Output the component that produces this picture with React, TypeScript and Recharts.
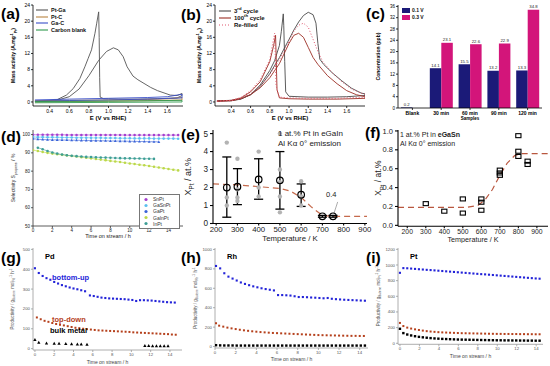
import React from 'react';
import { ComposedChart, Line, Bar, Scatter, XAxis, YAxis, Legend, ErrorBar, ReferenceLine, LabelList } from 'recharts';

const FONT = '"Liberation Sans", Arial, Helvetica, sans-serif';

type Pt = [number, number];
const pts = (a: Pt[]) => a.map(([x, y]) => ({ x, y }));
const zip = (xs: number[], ys: number[]) => xs.map((x, i) => ({ x, y: ys[i] }));

// ---------------- (a) ----------------
const aTicksX = [0.4, 0.6, 0.8, 1.0, 1.2, 1.4, 1.6];
const aTicksY = [0, 4, 8, 12, 16, 20, 24];
const aPtGaE = [0.25, 0.4, 0.5, 0.6, 0.7, 0.8, 0.9, 0.98, 1.05, 1.1, 1.15, 1.19, 1.25, 1.3, 1.43, 1.5, 1.63, 1.7, 1.75,
  1.75, 1.7, 1.5, 1.3, 1.1, 0.95, 0.915, 0.91, 0.905, 0.9, 0.88, 0.862, 0.827, 0.793, 0.759, 0.708, 0.64, 0.571, 0.47, 0.25];
const aPtGaJ = [0.2, 0.3, 0.6, 1.3, 3.2, 6.5, 10.3, 12.5, 13.4, 12.9, 11.2, 8.7, 6.4, 5.5, 3.6, 2.8, 1.7, 1.6, 2.1,
  1.6, 1.0, 0.8, 0.7, 0.7, 0.8, 1.2, 6, 16, 22.3, 19.5, 17, 12.9, 10.8, 8.7, 5.8, 3.3, 1.7, 0.5, 0.1];
const aPtCE = [0.25, 0.6, 1.0, 1.4, 1.6, 1.75, 1.75, 1.4, 1.0, 0.6, 0.25];
const aPtCJ = [0.3, 0.4, 0.5, 0.6, 0.8, 1.1, 0.5, 0.3, 0.2, 0.1, 0.0];
const aGaCE = [0.25, 0.6, 1.0, 1.4, 1.6, 1.75, 1.75, 1.4, 1.0, 0.6, 0.25];
const aGaCJ = [0.5, 0.7, 0.9, 1.1, 1.3, 1.9, 1.0, 0.7, 0.5, 0.35, 0.2];
const aBlankE = [0.25, 1.0, 1.75, 1.75, 1.0, 0.25];
const aBlankJ = [0.1, 0.2, 0.4, 0.0, -0.1, -0.2];
const aNames = ['Pt-Ga', 'Pt-C', 'Ga-C', 'Carbon blank'];

// ---------------- (b) ----------------
const bTicksX = [0.4, 0.6, 0.8, 1.0, 1.2, 1.4, 1.6];
const bTicksY = [0, 4, 8, 12, 16, 20, 24];
const b3E = [0.25, 0.4, 0.5, 0.6, 0.7, 0.8, 0.9, 1.0, 1.05, 1.1, 1.15, 1.2, 1.25, 1.28, 1.3, 1.32, 1.36, 1.45, 1.55, 1.65, 1.75, 1.79,
  1.79, 1.6, 1.4, 1.2, 1.0, 0.965, 0.955, 0.945, 0.94, 0.92, 0.9, 0.85, 0.8, 0.7, 0.6, 0.5, 0.4, 0.25];
const b3J = [0.3, 0.4, 0.8, 1.8, 3.8, 7.0, 11.0, 15.5, 17.8, 19.8, 21.4, 22.2, 21.6, 19.5, 14.5, 10.6, 9.3, 7.2, 5.2, 3.4, 2.2, 2.0,
  1.6, 1.3, 1.2, 1.2, 1.4, 2.5, 10, 19, 21.8, 17.5, 14, 10.2, 7.8, 4.2, 1.8, 0.7, 0.3, 0.2];
const b100E = [0.25, 0.4, 0.5, 0.6, 0.7, 0.8, 0.9, 0.95, 1.0, 1.05, 1.1, 1.15, 1.2, 1.25, 1.3, 1.4, 1.5, 1.6, 1.7, 1.79,
  1.79, 1.5, 1.2, 1.0, 0.9, 0.875, 0.865, 0.86, 0.84, 0.8, 0.75, 0.7, 0.6, 0.5, 0.4, 0.25];
const b100J = [0.2, 0.3, 0.8, 1.8, 3.5, 6.0, 9.5, 12.0, 14.5, 16.5, 17.0, 16.0, 13.5, 11.0, 9.3, 6.5, 4.5, 2.8, 1.8, 1.3,
  0.9, 0.7, 0.7, 0.8, 1.0, 3, 12, 16.5, 14, 10, 7.5, 5, 2.5, 1.0, 0.4, 0.2];
const bReE = [0.25, 0.4, 0.5, 0.6, 0.7, 0.8, 0.9, 1.0, 1.05, 1.1, 1.15, 1.2, 1.25, 1.3, 1.35, 1.45, 1.55, 1.65, 1.75, 1.79,
  1.79, 1.5, 1.2, 1.0, 0.9, 0.865, 0.855, 0.85, 0.83, 0.8, 0.75, 0.7, 0.6, 0.5, 0.4, 0.25];
const bReJ = [0.2, 0.3, 0.9, 2.0, 4.0, 6.8, 10.5, 15.0, 17.5, 19.0, 19.5, 18.5, 15.5, 12.5, 10.0, 7.2, 5.0, 3.2, 2.2, 1.9,
  1.2, 0.9, 0.9, 1.0, 1.2, 4, 13, 17, 14.5, 10.5, 8, 5.5, 2.8, 1.1, 0.4, 0.2];
const bNames = ['3rd cycle', '100th cycle', 'Re-filled'];

// ---------------- (c) ----------------
const cSamples = ['Blank', '30 min', '60 min', '90 min', '120 min'];
const c01V = [0.2, 14.1, 15.5, 13.2, 13.3];
const c03V = [0, 23.1, 22.6, 22.9, 34.8];
const cTicksY = [0, 4, 8, 12, 16, 20, 24, 28, 32, 36];
const cNames = ['0.1 V', '0.3 V'];

// ---------------- (d) ----------------
const dTicksX = [0, 2, 4, 6, 8, 10, 12, 14];
const dTicksY = [50, 60, 70, 80, 90, 100];
const dSnPt: Pt[] = [[0, 99.9], [0.5, 99.9], [1, 99.9], [1.5, 99.9], [2, 99.9], [2.5, 99.9], [3, 99.9], [3.5, 99.8], [4, 99.8], [4.5, 99.8], [5, 99.8], [5.5, 99.8], [6, 99.8], [6.5, 99.8], [7, 99.8], [7.5, 99.8], [8, 99.8], [8.5, 99.8], [9, 99.8], [9.5, 99.7], [10, 99.7], [10.5, 99.7], [11, 99.7], [11.5, 99.7], [12, 99.7], [12.5, 99.7], [13, 99.7], [13.5, 99.7], [14, 99.7], [14.5, 99.7], [15, 99.7]];
const dGaSnPt: Pt[] = [[0, 98.7], [0.5, 98.6], [1, 98.6], [1.5, 98.5], [2, 98.5], [2.5, 98.5], [3, 98.4], [3.5, 98.4], [4, 98.4], [4.5, 98.3], [5, 98.3], [5.5, 98.3], [6, 98.2], [6.5, 98.2], [7, 98.2], [7.5, 98.1], [8, 98.1], [8.5, 98.1], [9, 98.0], [9.5, 98.0], [10, 98.0], [10.5, 97.9], [11, 97.9], [11.5, 97.9], [12, 97.9], [12.5, 97.8], [13, 97.8], [13.5, 97.8], [14, 97.8], [14.5, 97.8], [15, 97.7]];
const dGaPt: Pt[] = [[0, 97.8], [0.5, 97.4], [1, 97.3], [1.5, 97.2], [2, 97.1], [2.5, 97.1], [3, 97.0], [3.5, 97.0], [4, 96.9], [4.5, 96.9], [5, 96.8], [5.5, 96.8], [6, 96.7], [6.5, 96.7], [7, 96.6], [7.5, 96.6], [8, 96.5], [8.5, 96.5], [9, 96.4], [9.5, 96.4], [10, 96.3], [10.5, 96.3], [11, 96.2], [11.5, 96.2], [12, 96.1], [12.5, 96.1], [13, 96.0]];
const dGaInPt: Pt[] = [[0, 91.5], [0.5, 91.0], [1, 90.5], [1.5, 90.0], [2, 89.6], [2.5, 89.2], [3, 88.9], [3.5, 88.6], [4, 88.3], [4.5, 88.0], [5, 87.6], [5.5, 87.3], [6, 87.0], [6.5, 86.6], [7, 86.3], [7.5, 86.0], [8, 85.6], [8.5, 85.3], [9, 85.0], [9.5, 84.6], [10, 84.2], [10.5, 83.9], [11, 83.5], [11.5, 83.2], [12, 82.8], [12.5, 82.4], [13, 82.0], [13.5, 81.6], [14, 81.2], [14.5, 80.8], [15, 80.4]];
const dInPt: Pt[] = [[0.5, 92.8], [1, 92.0], [1.5, 91.0], [2, 90.2], [2.5, 89.6], [3, 89.1], [3.5, 88.7], [4, 88.4], [4.5, 88.2], [5, 88.0], [5.5, 87.8], [6, 87.7], [6.5, 87.6], [7, 87.5], [7.5, 87.4], [8, 87.3], [8.5, 87.2], [9, 87.1], [9.5, 87.0], [10, 87.0], [10.5, 86.9], [11, 86.9], [11.5, 86.8], [12, 86.8], [12.5, 86.7]];
const dNames = ['SnPt', 'GaSnPt', 'GaPt', 'GaInPt', 'InPt'];

// ---------------- (e) ----------------
const eTicksX = [200, 300, 400, 500, 600, 700, 800, 900];
const eTicksY = [0, 1, 2, 3, 4, 5];
const eTemp = [250, 300, 400, 500, 600, 700, 750];
const eMean = [2.0, 2.05, 2.45, 2.4, 1.6, 0.4, 0.4];
const eLow = [0.35, 1.05, 1.35, 0.8, 0.95, 0.35, 0.35];
const eHigh = [3.7, 3.05, 3.6, 4.0, 2.2, 0.45, 0.45];
const eRawT = [250, 250, 250, 300, 300, 300, 300, 400, 400, 400, 500, 500, 500, 500, 500, 600, 600, 600];
const eRawX = [4.5, 1.45, 1.0, 3.6, 1.9, 1.45, 1.25, 4.0, 2.0, 1.5, 5.0, 3.0, 2.3, 1.5, 0.62, 2.35, 1.5, 1.0];
const eFitT = [185, 300, 400, 500, 550, 600, 650, 700, 750, 910];
const eFitX = [2.2, 2.15, 2.05, 1.95, 1.8, 1.45, 0.9, 0.45, 0.4, 0.4];

// ---------------- (f) ----------------
const fTicksX = [200, 300, 400, 500, 600, 700, 800, 900];
const fTicksY = [0, 0.2, 0.4, 0.6, 0.8, 1.0];
const fTemp = [300, 400, 500, 500, 600, 600, 600, 700, 700, 700, 800, 800, 800, 850, 850];
const fX = [0.23, 0.15, 0.28, 0.13, 0.28, 0.245, 0.16, 0.585, 0.555, 0.53, 0.95, 0.785, 0.73, 0.68, 0.645];
const fFitT = [150, 520, 580, 620, 660, 700, 740, 780, 820, 960];
const fFitX = [0.19, 0.19, 0.21, 0.27, 0.38, 0.53, 0.66, 0.74, 0.76, 0.76];

// ---------------- (g) Pd ----------------
const gTicksX = [0, 2, 4, 6, 8, 10, 12, 14];
const gTicksY = [0, 100, 200, 300, 400, 500];
const gBottomUp: Pt[] = [[0, 405], [0.4, 381], [0.8, 366], [1.2, 355], [1.6, 347], [2.0, 336], [2.4, 328], [2.8, 320], [3.2, 314], [3.6, 308], [4.0, 303], [4.4, 299], [4.8, 294], [5.2, 289], [5.7, 268], [6.1, 265], [6.5, 261], [6.9, 257], [7.3, 255], [7.7, 253], [8.1, 252], [8.5, 251], [8.9, 250], [9.3, 249], [9.7, 247], [10.1, 245], [10.5, 240], [10.9, 244], [11.3, 244], [11.7, 243], [12.1, 242], [12.5, 240], [12.9, 238], [13.3, 236], [13.7, 234], [14.1, 233], [14.5, 232]];
const gTopDown: Pt[] = [[0.2, 157], [0.6, 148], [1.0, 140], [1.4, 135], [1.8, 129], [2.2, 124], [2.6, 120], [3.0, 117], [3.4, 113], [3.8, 109], [4.2, 105], [4.6, 103], [5.0, 100], [5.4, 98], [5.8, 96], [6.2, 94], [6.6, 92], [7.0, 91], [7.4, 90], [7.8, 89], [8.2, 88], [8.6, 87], [9.0, 86], [9.4, 85], [9.8, 84], [10.2, 82], [10.6, 81], [11.0, 80], [11.4, 79], [11.8, 78], [12.2, 77], [12.6, 76], [13.0, 75], [13.4, 74], [13.8, 73], [14.2, 71], [14.6, 70]];
const gBulk: Pt[] = [[0, 45], [0.4, 30], [1.2, 27], [2.0, 26], [2.5, 25], [3.2, 24], [3.8, 23], [4.4, 22], [4.8, 22], [5.4, 21], [11.4, 14], [11.8, 14], [12.2, 13], [12.6, 13], [13.0, 13], [13.4, 13], [13.8, 13]];

// ---------------- (h) Rh ----------------
const hTicksX = [0, 2, 4, 6, 8, 10, 12, 14];
const hTicksY = [0, 200, 400, 600, 800, 1000];
const hBottomUp: Pt[] = [[0.1, 830], [0.5, 805], [0.9, 755], [1.3, 720], [1.7, 700], [2.1, 680], [2.5, 660], [2.9, 645], [3.3, 632], [3.7, 620], [4.1, 610], [4.5, 600], [4.9, 592], [5.3, 585], [5.7, 578], [6.1, 530], [6.5, 530], [6.9, 528], [7.3, 525], [7.7, 518], [8.1, 510], [8.5, 510], [8.9, 508], [9.3, 505], [9.7, 503], [10.1, 500], [10.5, 497], [10.9, 500], [11.3, 492], [11.7, 488], [12.1, 485], [12.5, 482], [12.9, 480], [13.3, 478], [13.7, 476], [14.1, 474], [14.5, 472]];
const hTopDown: Pt[] = [[0.1, 240], [0.4, 215], [0.8, 205], [1.2, 195], [1.6, 187], [2.0, 180], [2.4, 173], [2.8, 167], [3.2, 162], [3.6, 157], [4.0, 153], [4.4, 149], [4.8, 146], [5.2, 143], [5.6, 140], [6.0, 138], [6.4, 136], [6.8, 134], [7.2, 132], [7.6, 130], [8.0, 128], [8.4, 126], [8.8, 124], [9.2, 122], [9.6, 120], [10.0, 118], [10.4, 117], [10.8, 116], [11.2, 115], [11.6, 114], [12.0, 113], [12.4, 112], [12.8, 111], [13.2, 110], [13.6, 110], [14.0, 109], [14.4, 109]];
const hBulk: Pt[] = [[0.1, 14], [0.5, 12], [0.9, 11], [1.3, 11], [1.7, 11], [2.1, 10], [2.5, 10], [2.9, 10], [3.3, 10], [3.7, 10], [4.1, 10], [4.5, 10], [4.9, 10], [5.3, 10], [5.7, 10], [6.1, 10], [6.5, 10], [6.9, 10], [7.3, 10], [7.7, 10], [8.1, 10], [8.5, 10], [8.9, 10], [9.3, 10], [9.7, 10], [10.1, 10], [10.5, 10], [10.9, 10], [11.3, 10], [11.7, 10], [12.1, 10], [12.5, 10], [12.9, 10], [13.3, 10], [13.7, 10], [14.1, 10], [14.5, 10]];

// ---------------- (i) Pt ----------------
const iTicksX = [0, 2, 4, 6, 8, 10, 12, 14];
const iTicksY = [0, 200, 400, 600, 800, 1000, 1200];
const iBottomUp: Pt[] = [[0, 900], [0.35, 960], [0.75, 958], [1.15, 954], [1.55, 950], [1.95, 946], [2.35, 942], [2.75, 938], [3.15, 935], [3.55, 931], [3.95, 927], [4.35, 923], [4.75, 919], [5.15, 915], [5.55, 911], [5.95, 907], [6.35, 903], [6.75, 899], [7.15, 895], [7.55, 891], [7.95, 887], [8.35, 883], [8.75, 880], [9.15, 876], [9.55, 872], [9.95, 868], [10.35, 864], [10.75, 860], [11.15, 856], [11.55, 852], [11.95, 848], [12.35, 844], [12.75, 840], [13.15, 836], [13.55, 832], [13.95, 828], [14.35, 825]];
const iTopDown: Pt[] = [[0, 260], [0.35, 220], [0.75, 200], [1.15, 188], [1.55, 178], [1.95, 170], [2.35, 162], [2.75, 155], [3.15, 150], [3.55, 146], [3.95, 142], [4.35, 139], [4.75, 137], [5.15, 135], [5.55, 133], [5.95, 131], [6.35, 129], [6.75, 128], [7.15, 127], [7.55, 126], [7.95, 125], [8.35, 124], [8.75, 123], [9.15, 122], [9.55, 121], [9.95, 120], [10.35, 120], [10.75, 119], [11.15, 119], [11.55, 118], [11.95, 118], [12.35, 117], [12.75, 117], [13.15, 116], [13.55, 116], [13.95, 115], [14.35, 115]];
const iBulk: Pt[] = [[0, 185], [0.35, 130], [0.75, 112], [1.15, 100], [1.55, 90], [1.95, 82], [2.35, 76], [2.75, 71], [3.15, 66], [3.55, 62], [3.95, 59], [4.35, 56], [4.75, 54], [5.15, 52], [5.55, 50], [5.95, 48], [6.35, 47], [6.75, 46], [7.15, 45], [7.55, 44], [7.95, 43], [8.35, 42], [8.75, 41], [9.15, 40], [9.55, 39], [9.95, 38], [10.35, 38], [10.75, 37], [11.15, 37], [11.55, 36], [11.95, 36], [12.35, 35], [12.75, 35], [13.15, 34], [13.55, 34], [13.95, 33], [14.35, 33]];

// ---------------- helpers ----------------
type Box = { x0: number; x1: number; y0: number; y1: number };
const BA: Box = { x0: 33, x1: 183, y0: 5, y1: 106 };
const BB: Box = { x0: 215, x1: 365, y0: 5, y1: 106 };
const BC: Box = { x0: 398, x1: 542, y0: 5, y1: 108 };
const BD: Box = { x0: 33, x1: 183, y0: 130, y1: 226 };
const BE: Box = { x0: 213, x1: 367, y0: 130, y1: 223.5 };
const BF: Box = { x0: 398, x1: 548, y0: 129.7, y1: 226 };
const BG: Box = { x0: 33, x1: 182, y0: 248, y1: 350 };
const BH: Box = { x0: 215, x1: 368, y0: 247.7, y1: 347.7 };
const BI: Box = { x0: 398, x1: 543, y0: 247.7, y1: 344 };

function place(b: Box, yw: number, xh: number, mt = 2, mr = 2) {
  return {
    style: { position: 'absolute' as const, left: b.x0 - yw, top: b.y0 - mt },
    width: yw + (b.x1 - b.x0) + mr,
    height: mt + (b.y1 - b.y0) + xh,
    margin: { top: mt, right: mr, bottom: 0, left: 0 },
    ox: b.x0 - yw,
    oy: b.y0 - mt,
  };
}

const tk = (fs: number, c = '#000', bold = false) => ({ fontSize: fs, fill: c, fontFamily: FONT, fontWeight: bold ? 'bold' : 'normal' });
const ax = (c: string, w = 0.8) => ({ stroke: c, strokeWidth: w });
const f1 = (v: number) => v.toFixed(1);
const sorter = (names: string[]) => (e: any) => names.indexOf(String(e && e.value));

type Part = { t: string; s?: 'sub' | 'sup' };
function spans(parts: Part[], fs: number) {
  let cur = 0;
  return parts.map((p, i) => {
    const target = p.s === 'sub' ? fs * 0.3 : p.s === 'sup' ? -fs * 0.4 : 0;
    const dy = target - cur;
    cur = target;
    return (
      <tspan key={i} dy={dy} fontSize={p.s ? fs * 0.7 : fs}>
        {p.t}
      </tspan>
    );
  });
}
const xTitle = (parts: Part[], fs: number, dy: number, bold = true, color = '#000') => (props: any) => {
  const vb = props.viewBox || { x: 0, y: 0, width: 0, height: 0 };
  const x = vb.x + vb.width / 2;
  const y = vb.y + dy;
  return (
    <text x={x} y={y} textAnchor="middle" fontSize={fs} fontWeight={bold ? 'bold' : 'normal'} fill={color} fontFamily={FONT}>
      {spans(parts, fs)}
    </text>
  );
};
const yTitle = (parts: Part[], fs: number, dx: number, bold = true, color = '#000') => (props: any) => {
  const vb = props.viewBox || { x: 0, y: 0, width: 0, height: 0 };
  const x = vb.x + dx;
  const y = vb.y + vb.height / 2;
  return (
    <text x={x} y={y} transform={`rotate(-90 ${x} ${y})`} textAnchor="middle" fontSize={fs} fontWeight={bold ? 'bold' : 'normal'} fill={color} fontFamily={FONT}>
      {spans(parts, fs)}
    </text>
  );
};

const frameAxes = (c: string, w = 0.8) => [
  <XAxis key="ft" xAxisId="ft" orientation="top" type="number" domain={[0, 1]} height={0} tick={false} tickLine={false} axisLine={ax(c, w)} />,
  <YAxis key="fr" yAxisId="fr" orientation="right" type="number" domain={[0, 1]} width={0} tick={false} tickLine={false} axisLine={ax(c, w)} />,
];

function fmtName(n: string) {
  const m = /^(\d+)(st|nd|rd|th)(.*)$/.exec(n);
  if (!m) return n;
  return (
    <>
      {m[1]}
      <sup style={{ fontSize: '70%', lineHeight: 0 }}>{m[2]}</sup>
      {m[3]}
    </>
  );
}

const ordered = (payload: any[], names: string[]) =>
  [...(payload || [])].sort((a, b) => names.indexOf(String(a.value)) - names.indexOf(String(b.value)));

const lineLegend = (fs: number, row: number, names: string[]) => (props: any) => (
  <div style={{ fontFamily: FONT, fontSize: fs, fontWeight: 'bold', lineHeight: `${row}px`, color: '#111' }}>
    {ordered(props.payload, names).map((e: any) => (
      <div key={e.value} style={{ display: 'flex', alignItems: 'center', height: row }}>
        <svg width={12} height={4} style={{ marginRight: 3 }}>
          <line x1={0} y1={2} x2={12} y2={2} stroke={e.color} strokeWidth={1.1} strokeDasharray={e.payload && e.payload.strokeDasharray} />
        </svg>
        <span>{fmtName(String(e.value))}</span>
      </div>
    ))}
  </div>
);

const boxLegend = (fs: number, row: number, names: string[]) => (props: any) => (
  <div style={{ fontFamily: FONT, fontSize: fs, fontWeight: 'bold', lineHeight: `${row}px`, color: '#111' }}>
    {ordered(props.payload, names).map((e: any) => (
      <div key={e.value} style={{ display: 'flex', alignItems: 'center', height: row }}>
        <svg width={8} height={5} style={{ marginRight: 2 }}>
          <rect x={0} y={0} width={8} height={5} fill={e.color} />
        </svg>
        <span>{e.value}</span>
      </div>
    ))}
  </div>
);

const markerLegend = (fs: number, row: number, names: string[]) => (props: any) => (
  <div style={{ fontFamily: FONT, fontSize: fs, lineHeight: `${row}px`, color: '#333', border: '0.6px solid #777', background: '#fff', padding: '1px 3px 1px 2px', width: 34 }}>
    {ordered(props.payload, names).map((e: any) => (
      <div key={e.value} style={{ display: 'flex', alignItems: 'center', height: row }}>
        <svg width={8} height={5} style={{ marginRight: 3 }}>
          <circle cx={4} cy={2.5} r={1.6} fill={e.color} />
        </svg>
        <span>{e.value}</span>
      </div>
    ))}
  </div>
);

const dotShape = (r: number, fill: string, stroke = 'none') => (p: any) => <circle cx={p.cx} cy={p.cy} r={r} fill={fill} stroke={stroke} strokeWidth={0.4} />;
const sqShape = (s: number, fill: string) => (p: any) => <rect x={p.cx - s / 2} y={p.cy - s / 2} width={s} height={s} fill={fill} />;
const triShape = (s: number, fill: string) => (p: any) => (
  <path d={`M${p.cx},${p.cy - s * 0.6} L${p.cx + s * 0.55},${p.cy + s * 0.4} L${p.cx - s * 0.55},${p.cy + s * 0.4} Z`} fill={fill} />
);
const openSq = (p: any) => <rect x={p.cx - 2.6} y={p.cy - 2} width={5.2} height={4} fill="none" stroke="#000" strokeWidth={1.1} />;
const openCircle = (p: any) => <circle cx={p.cx} cy={p.cy} r={3.3} fill="none" stroke="#000" strokeWidth={1.2} />;

function Txt(props: { x: number; y: number; fs: number; bold?: boolean; color?: string; children: React.ReactNode }) {
  return (
    <div style={{ position: 'absolute', left: props.x, top: props.y, fontSize: props.fs, fontWeight: props.bold ? 'bold' : 'normal', color: props.color || '#000', fontFamily: FONT, lineHeight: 1, whiteSpace: 'nowrap' }}>
      {props.children}
    </div>
  );
}

// ---------------- panels ----------------
function PanelA() {
  const yw = 28, xh = 16;
  const p = place(BA, yw, xh);
  return (
    <div style={p.style}>
      <ComposedChart width={p.width} height={p.height} margin={p.margin}>
        <XAxis type="number" dataKey="x" domain={[0.23, 1.76]} allowDataOverflow ticks={aTicksX} interval={0} tickFormatter={f1} tick={tk(5)} tickSize={2} tickMargin={1} height={xh} axisLine={ax('#000')} tickLine={ax('#000')} label={xTitle([{ t: 'E (V vs RHE)' }], 6, 13.5)} />
        <YAxis type="number" dataKey="y" domain={[-1, 24]} allowDataOverflow ticks={aTicksY} interval={0} tick={tk(5)} tickSize={2} tickMargin={1} width={yw} axisLine={ax('#000')} tickLine={ax('#000')} label={yTitle([{ t: 'Mass activity (A.mg' }, { t: '-1', s: 'sup' }, { t: 'Pt', s: 'sub' }, { t: ')' }], 5, 10)} />
        {frameAxes('#000')}
        <Line data={zip(aPtGaE, aPtGaJ)} dataKey="y" name={aNames[0]} stroke="#555555" strokeWidth={0.9} dot={false} isAnimationActive={false} />
        <Line data={zip(aPtCE, aPtCJ)} dataKey="y" name={aNames[1]} stroke="#b88440" strokeWidth={0.9} dot={false} isAnimationActive={false} />
        <Line data={zip(aGaCE, aGaCJ)} dataKey="y" name={aNames[2]} stroke="#3a4fc8" strokeWidth={0.9} dot={false} isAnimationActive={false} />
        <Line data={zip(aBlankE, aBlankJ)} dataKey="y" name={aNames[3]} stroke="#2f9a4e" strokeWidth={0.9} dot={false} isAnimationActive={false} />
        <Legend layout="vertical" align="center" verticalAlign="middle" itemSorter={sorter(aNames)} wrapperStyle={{ left: 36 - p.ox, top: 7 - p.oy, width: 'auto', height: 'auto' }} content={lineLegend(5.5, 6.6, aNames)} />
      </ComposedChart>
    </div>
  );
}

function PanelB() {
  const yw = 28, xh = 16;
  const p = place(BB, yw, xh);
  return (
    <div style={p.style}>
      <ComposedChart width={p.width} height={p.height} margin={p.margin}>
        <XAxis type="number" dataKey="x" domain={[0.23, 1.79]} allowDataOverflow ticks={bTicksX} interval={0} tickFormatter={f1} tick={tk(5)} tickSize={2} tickMargin={1} height={xh} axisLine={ax('#000')} tickLine={ax('#000')} label={xTitle([{ t: 'E (V vs RHE)' }], 6, 13.5)} />
        <YAxis type="number" dataKey="y" domain={[-1, 24]} allowDataOverflow ticks={bTicksY} interval={0} tick={tk(5)} tickSize={2} tickMargin={1} width={yw} axisLine={ax('#000')} tickLine={ax('#000')} label={yTitle([{ t: 'Mass activity (A.mg' }, { t: '-1', s: 'sup' }, { t: 'Pt', s: 'sub' }, { t: ')' }], 5, 14)} />
        {frameAxes('#000')}
        <Line data={zip(b3E, b3J)} dataKey="y" name={bNames[0]} stroke="#4a4a4a" strokeWidth={0.9} dot={false} isAnimationActive={false} />
        <Line data={zip(b100E, b100J)} dataKey="y" name={bNames[1]} stroke="#9c2f25" strokeWidth={0.9} dot={false} isAnimationActive={false} />
        <Line data={zip(bReE, bReJ)} dataKey="y" name={bNames[2]} stroke="#e0566e" strokeWidth={1} strokeDasharray="1 2" dot={false} isAnimationActive={false} />
        <Legend layout="vertical" align="center" verticalAlign="middle" itemSorter={sorter(bNames)} wrapperStyle={{ left: 219 - p.ox, top: 8 - p.oy, width: 'auto', height: 'auto' }} content={lineLegend(6, 6.8, bNames)} />
      </ComposedChart>
    </div>
  );
}

function PanelC() {
  const yw = 30, xh = 14;
  const p = place(BC, yw, xh);
  const data = cSamples.map((s, i) => ({ s, v1: c01V[i], v3: c03V[i] }));
  return (
    <div style={p.style}>
      <ComposedChart width={p.width} height={p.height} margin={p.margin} data={data} barGap={0}>
        <XAxis dataKey="s" type="category" interval={0} tick={tk(5, '#000', true)} tickSize={2} tickMargin={1} height={xh} axisLine={ax('#000')} tickLine={ax('#000')} label={xTitle([{ t: 'Samples' }], 4.5, 12)} />
        <YAxis type="number" domain={[0, 36.5]} allowDataOverflow ticks={cTicksY} interval={0} tick={tk(4.5)} tickSize={2} tickMargin={1} width={yw} axisLine={ax('#000')} tickLine={ax('#000')} label={yTitle([{ t: 'Concentration (ppb)' }], 5, 12)} />
        {frameAxes('#000')}
        <Bar dataKey="v1" name={cNames[0]} fill="#1b1a78" barSize={11.5} isAnimationActive={false}>
          <LabelList dataKey="v1" position="top" offset={1.5} fontSize={4.3} fill="#222" fontFamily={FONT} />
        </Bar>
        <Bar dataKey="v3" name={cNames[1]} fill="#d3157a" barSize={11.5} isAnimationActive={false}>
          <LabelList dataKey="v3" position="top" offset={1.5} fontSize={4.3} fill="#222" fontFamily={FONT} formatter={(v: any) => (v ? v : '')} />
        </Bar>
        <Legend layout="vertical" align="center" verticalAlign="middle" itemSorter={sorter(cNames)} wrapperStyle={{ left: 402 - p.ox, top: 7 - p.oy, width: 'auto', height: 'auto' }} content={boxLegend(5, 6.8, cNames)} />
      </ComposedChart>
    </div>
  );
}

const dSeries = [
  { name: dNames[0], data: dSnPt, color: '#a53fcf', tri: false },
  { name: dNames[1], data: dGaSnPt, color: '#5cc0ee', tri: false },
  { name: dNames[2], data: dGaPt, color: '#3a63d8', tri: true },
  { name: dNames[3], data: dGaInPt, color: '#bcd84a', tri: false },
  { name: dNames[4], data: dInPt, color: '#3e9e96', tri: false },
];

function PanelD() {
  const yw = 28, xh = 14;
  const p = place(BD, yw, xh);
  return (
    <div style={p.style}>
      <ComposedChart width={p.width} height={p.height} margin={p.margin}>
        <XAxis type="number" dataKey="x" domain={[0, 15.5]} allowDataOverflow ticks={dTicksX} interval={0} tick={tk(4.5, '#222')} tickSize={2} tickMargin={1} height={xh} axisLine={ax('#333')} tickLine={ax('#333')} label={xTitle([{ t: 'Time on stream / h' }], 5.5, 11.5, false, '#222')} />
        <YAxis type="number" dataKey="y" domain={[50, 102.5]} allowDataOverflow ticks={dTicksY} interval={0} tick={tk(4.5, '#222')} tickSize={2} tickMargin={1} width={yw} axisLine={ax('#333')} tickLine={ax('#333')} label={yTitle([{ t: 'Selectivity S' }, { t: 'propene', s: 'sub' }, { t: ' / %' }], 5, 10, false, '#222')} />
        {frameAxes('#333')}
        {dSeries.map((s) => (
          <Scatter key={s.name} name={s.name} data={pts(s.data)} fill={s.color} line={{ stroke: s.color, strokeWidth: 0.6 }} shape={s.tri ? triShape(2.6, s.color) : dotShape(1.3, s.color)} isAnimationActive={false} />
        ))}
        <Legend layout="vertical" align="center" verticalAlign="middle" itemSorter={sorter(dNames)} wrapperStyle={{ left: 139 - p.ox, top: 194 - p.oy, width: 'auto', height: 'auto' }} content={markerLegend(5, 6.2, dNames)} />
      </ComposedChart>
    </div>
  );
}

function PanelE() {
  const yw = 30, xh = 19;
  const p = place(BE, yw, xh, 2, 9);
  const mean = eTemp.map((x, i) => ({ x, y: eMean[i], err: [eMean[i] - eLow[i], eHigh[i] - eMean[i]] }));
  return (
    <div style={p.style}>
      <ComposedChart width={p.width} height={p.height} margin={p.margin}>
        <XAxis type="number" dataKey="x" domain={[185, 910]} allowDataOverflow ticks={eTicksX} interval={0} tick={tk(7.8, '#222')} tickSize={2} tickMargin={0.5} height={xh} axisLine={ax('#000', 1.1)} tickLine={ax('#000', 1.1)} label={xTitle([{ t: 'Temperature / K' }], 7.8, 17, false, '#222')} />
        <YAxis type="number" dataKey="y" domain={[0, 5.2]} allowDataOverflow ticks={eTicksY} interval={0} tick={tk(8.2, '#222')} tickSize={3} tickMargin={2} width={yw} axisLine={ax('#000', 1.1)} tickLine={ax('#000', 1.1)} label={yTitle([{ t: 'X' }, { t: 'Pt', s: 'sub' }, { t: ' / at.%' }], 9, 8, false, '#222')} />
        {frameAxes('#000', 1.1)}
        <Scatter data={zip(eRawT, eRawX)} name="raw" fill="#b0b0b0" shape={dotShape(2.2, '#b3b3b3')} isAnimationActive={false} />
        <Line data={zip(eFitT, eFitX)} dataKey="y" name="fit" stroke="#c56a4c" strokeWidth={1.2} strokeDasharray="6 4" dot={false} isAnimationActive={false} />
        <Scatter data={mean} name="mean" fill="#000" shape={openCircle} isAnimationActive={false}>
          <ErrorBar dataKey="err" direction="y" width={4.5} stroke="#000" strokeWidth={1.3} />
        </Scatter>
        <ReferenceLine segment={[{ x: 754, y: 0.55 }, { x: 772, y: 1.2 }]} stroke="#888" strokeWidth={0.7} />
      </ComposedChart>
    </div>
  );
}

function PanelF() {
  const yw = 30, xh = 17;
  const p = place(BF, yw, xh);
  return (
    <div style={p.style}>
      <ComposedChart width={p.width} height={p.height} margin={p.margin}>
        <XAxis type="number" dataKey="x" domain={[150, 960]} allowDataOverflow ticks={fTicksX} interval={0} tick={tk(6.8, '#222')} tickSize={2} tickMargin={0.5} height={xh} axisLine={ax('#000', 1.1)} tickLine={ax('#000', 1.1)} label={xTitle([{ t: 'Temperature / K' }], 7.2, 15.5, false, '#222')} />
        <YAxis type="number" dataKey="y" domain={[-0.01, 1.01]} allowDataOverflow ticks={fTicksY} interval={0} tickFormatter={f1} tick={tk(7.5, '#222')} tickSize={3} tickMargin={2} width={yw} axisLine={ax('#000', 1.1)} tickLine={ax('#000', 1.1)} label={yTitle([{ t: 'X' }, { t: 'Pt', s: 'sub' }, { t: ' / at.%' }], 8.5, 13, false, '#222')} />
        {frameAxes('#000', 1.1)}
        <Line data={zip(fFitT, fFitX)} dataKey="y" name="fit" stroke="#b9573f" strokeWidth={1.2} strokeDasharray="6 4" dot={false} isAnimationActive={false} />
        <Scatter data={zip(fTemp, fX)} name="data" fill="#000" shape={openSq} isAnimationActive={false} />
      </ComposedChart>
    </div>
  );
}

const BLUE = '#2323d8';
const BROWN = '#b5401c';

function ProdPanel(props: { box: Box; xDom: [number, number]; yDom: [number, number]; xt: number[]; yt: number[]; metal: string; up: Pt[]; down: Pt[]; bulk: Pt[]; tri: boolean; ydx: number; xdy: number }) {
  const yw = 28, xh = 16;
  const p = place(props.box, yw, xh);
  return (
    <div style={p.style}>
      <ComposedChart width={p.width} height={p.height} margin={p.margin}>
        <XAxis type="number" dataKey="x" domain={props.xDom} allowDataOverflow ticks={props.xt} interval={0} tick={tk(4.3, '#555')} tickSize={2} tickMargin={1} height={xh} axisLine={ax('#999')} tickLine={ax('#999')} label={xTitle([{ t: 'Time on stream / h' }], 5, props.xdy, false, '#444')} />
        <YAxis type="number" dataKey="y" domain={props.yDom} allowDataOverflow ticks={props.yt} interval={0} tick={tk(4.3, '#555')} tickSize={2} tickMargin={1} width={yw} axisLine={ax('#999')} tickLine={ax('#999')} label={yTitle([{ t: 'Productivity / g' }, { t: 'Butene', s: 'sub' }, { t: ' mol' }, { t: props.metal, s: 'sub' }, { t: '-1', s: 'sup' }, { t: ' h' }, { t: '-1', s: 'sup' }], 4.5, props.ydx, false, '#555')} />
        {frameAxes('#999')}
        <Scatter data={pts(props.up)} name="bottom-up" fill={BLUE} shape={sqShape(2.1, BLUE)} isAnimationActive={false} />
        <Scatter data={pts(props.down)} name="top-down" fill={BROWN} shape={sqShape(2, BROWN)} isAnimationActive={false} />
        <Scatter data={pts(props.bulk)} name="bulk metal" fill="#000" shape={props.tri ? triShape(3, '#000') : sqShape(2.4, '#000')} isAnimationActive={false} />
      </ComposedChart>
    </div>
  );
}

export default function App() {
  return (
    <div style={{ position: 'absolute', left: 0, top: 0, width: 550, height: 366, background: '#fff', overflow: 'hidden', fontFamily: FONT }}>
      <PanelA />
      <PanelB />
      <PanelC />
      <PanelD />
      <PanelE />
      <PanelF />
      <ProdPanel box={BG} xDom={[-0.2, 15.25]} yDom={[-7, 507]} xt={gTicksX} yt={gTicksY} metal="Pd" up={gBottomUp} down={gTopDown} bulk={gBulk} tri={true} ydx={9} xdy={13.5} />
      <ProdPanel box={BH} xDom={[0, 14.8]} yDom={[-15, 1015]} xt={hTicksX} yt={hTicksY} metal="Rh" up={hBottomUp} down={hTopDown} bulk={hBulk} tri={false} ydx={10} xdy={12.5} />
      <ProdPanel box={BI} xDom={[-0.2, 14.7]} yDom={[-13, 1217]} xt={iTicksX} yt={iTicksY} metal="Pt" up={iBottomUp} down={iTopDown} bulk={iBulk} tri={false} ydx={10} xdy={13.5} />

      {/* panel letters */}
      <Txt x={1} y={6} fs={15.5} bold>(a)</Txt>
      <Txt x={181} y={7} fs={15.5} bold>(b)</Txt>
      <Txt x={366} y={6} fs={15.5} bold>(c)</Txt>
      <Txt x={1} y={129} fs={15.5} bold>(d)</Txt>
      <Txt x={181} y={127} fs={15.5} bold>(e)</Txt>
      <Txt x={365} y={125} fs={15.5} bold>(f)</Txt>
      <Txt x={1} y={250} fs={15.5} bold>(g)</Txt>
      <Txt x={181} y={250} fs={15.5} bold>(h)</Txt>
      <Txt x={366} y={250} fs={15.5} bold>(i)</Txt>

      {/* in-plot annotations */}
      <Txt x={278} y={130} fs={8} color="#222">1 at.% Pt in eGaIn</Txt>
      <Txt x={278} y={139.5} fs={8} color="#222">Al Kα 0° emission</Txt>
      <Txt x={326} y={191} fs={7.5} color="#222">0.4</Txt>
      <Txt x={400} y={130.5} fs={7} color="#222">1 at.% Pt in <b>eGaSn</b></Txt>
      <Txt x={400} y={139.5} fs={7} color="#222">Al Kα 0° emission</Txt>
      <Txt x={45} y={253} fs={7.5} bold>Pd</Txt>
      <Txt x={52} y={273.5} fs={7.5} bold color={BLUE}>bottom-up</Txt>
      <Txt x={52} y={316} fs={7.5} bold color={BROWN}>top-down</Txt>
      <Txt x={50} y={327} fs={7.5} bold>bulk metal</Txt>
      <Txt x={227} y={253} fs={7.5} bold>Rh</Txt>
      <Txt x={410} y={253} fs={7.5} bold>Pt</Txt>
    </div>
  );
}
